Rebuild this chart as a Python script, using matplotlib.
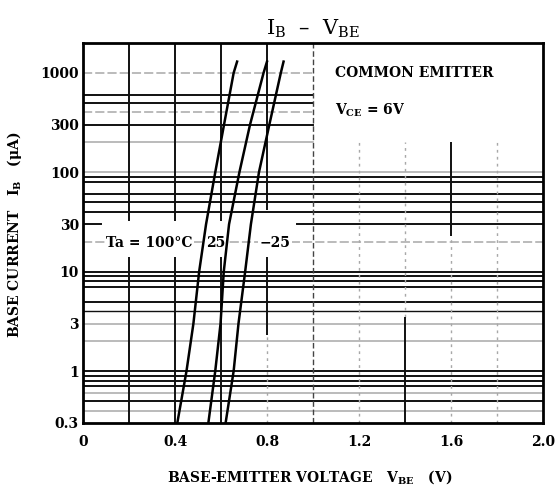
import matplotlib
matplotlib.use("Agg")
import matplotlib.pyplot as plt

# ---------------- data ----------------
ib_levels = [0.3, 1, 3, 10, 30, 100, 300, 1000, 1300]          # uA
vbe_100 = [0.41, 0.45, 0.48, 0.505, 0.535, 0.575, 0.613, 0.655, 0.67]
vbe_25 = [0.545, 0.575, 0.598, 0.612, 0.635, 0.68, 0.726, 0.785, 0.80]
vbe_m25 = [0.62, 0.655, 0.676, 0.705, 0.73, 0.765, 0.81, 0.86, 0.872]
curve_labels = ["Ta = 100°C", "25", "−25"]

x_ticks = [0, 0.4, 0.8, 1.2, 1.6, 2.0]
x_tick_labels = ["0", "0.4", "0.8", "1.2", "1.6", "2.0"]
y_ticks = [0.3, 1, 3, 10, 30, 100, 300, 1000]
y_tick_labels = ["0.3", "1", "3", "10", "30", "100", "300", "1000"]

plt.rcParams['font.family'] = ['DejaVu Serif']
plt.rcParams['mathtext.fontset'] = 'dejavuserif'

fig = plt.figure(figsize=(5.55, 4.91), dpi=100)
ax = fig.add_axes([83/555, 1-423/491, 460/555, 380/491])
ax.set_xscale('linear')
ax.set_yscale('log')
ax.set_xlim(0, 2.0)
ax.set_ylim(0.3, 2000)

BLK = '#111111'
GRY = '#a8a8a8'

# ---- horizontal grid (log minor lines, scanned-style) ----
def hline(v, style, x0=0.0, x1=1.0):
    if style == 'k':
        ax.axhline(v, x0, x1, color=BLK, lw=1.4, zorder=1)
    elif style == 'kt':
        ax.axhline(v, x0, x1, color=BLK, lw=1.0, zorder=1)
    elif style == 'g':
        ax.axhline(v, x0, x1, color=GRY, lw=1.1, zorder=1)
    elif style == 'gd':
        ax.axhline(v, x0, x1, color=GRY, lw=1.1, ls=(0, (6, 2)), zorder=1)

# decade 0.3 - 1
for v, s in [(0.4, 'g'), (0.5, 'k'), (0.6, 'g'), (0.7, 'k'), (0.8, 'k'), (0.9, 'k'), (1, 'k')]:
    hline(v, s)
# decade 1 - 10
for v, s in [(2, 'g'), (3, 'g'), (4, 'kt'), (5, 'k'), (7, 'k'), (8, 'k'), (9, 'k'), (10, 'k')]:
    hline(v, s)
# decade 10 - 100
for v, s in [(20, 'gd'), (40, 'k'), (50, 'k'), (60, 'k'), (80, 'k'), (90, 'k'), (100, 'g')]:
    hline(v, s)
hline(30, 'k', 0.0, 0.04)
hline(30, 'k', 0.465, 1.0)
# decade 100 - 1000 (only left half)
for v, s in [(200, 'g'), (300, 'k'), (400, 'gd'), (500, 'k'), (600, 'k'), (1000, 'gd')]:
    hline(v, s, 0.0, 0.5)

# ---- vertical grid ----
def vseg(x, y0, y1, style):
    kw = dict(color=BLK, lw=1.4)
    if style == 'g':
        kw = dict(color=GRY, lw=1.0, ls=(0, (2, 3)))
    elif style == 'd':
        kw = dict(color='#444444', lw=1.0, ls=(0, (4, 2)))
    ax.plot([x, x], [y0, y1], zorder=1, solid_capstyle='butt', **kw)

for x in (0.2, 0.4, 0.6):
    vseg(x, 0.3, 14, 'k')
    vseg(x, 32, 2000, 'k')
vseg(0.8, 42, 2000, 'k')
vseg(0.8, 2.3, 14, 'k')
vseg(0.8, 0.3, 2.3, 'g')
vseg(1.0, 0.3, 2000, 'd')
vseg(1.2, 0.3, 200, 'g')
vseg(1.4, 3.5, 200, 'g')
vseg(1.4, 0.3, 3.5, 'k')
vseg(1.6, 23, 200, 'k')
vseg(1.6, 0.3, 23, 'g')
vseg(1.8, 0.3, 200, 'g')

# ---- curves ----
for v in (vbe_100, vbe_25, vbe_m25):
    ax.plot(v, ib_levels, color='black', lw=1.8, zorder=6)

# curve labels
bbox = dict(facecolor='white', edgecolor='none', pad=1.0)
tkw = dict(fontsize=10, fontweight='bold', va='center', zorder=4, bbox=bbox)
ax.text(0.10, 19.4, curve_labels[0], ha='left', **tkw)
ax.text(0.578, 19.4, curve_labels[1], ha='center', **tkw)
ax.text(0.835, 19.4, curve_labels[2], ha='center', **tkw)

# condition text
ax.text(1.096, 1000, "COMMON EMITTER", fontsize=10, fontweight='bold', ha='left', va='center', zorder=4)
ax.text(1.096, 420, r"$\mathbf{V_{CE}}$ = 6V", fontsize=10, fontweight='bold', ha='left', va='center', zorder=4)

# ---- axes styling ----
for sp in ax.spines.values():
    sp.set_linewidth(2.0)
    sp.set_color('black')
    sp.set_zorder(7)

ax.set_xticks(x_ticks)
ax.set_xticklabels(x_tick_labels, fontsize=10, fontweight='bold')
ax.set_yticks(y_ticks)
ax.set_yticklabels(y_tick_labels, fontsize=10, fontweight='bold')
ax.minorticks_off()
ax.tick_params(axis='both', length=0)
ax.tick_params(axis='x', pad=9)
ax.tick_params(axis='y', pad=3)

ax.set_title(r"$\mathrm{I_B}$  –  $\mathrm{V_{BE}}$", fontsize=15, pad=6)
ax.set_xlabel(r"BASE-EMITTER VOLTAGE   $\mathbf{V_{BE}}$   (V)", fontsize=10, fontweight='bold')
ax.xaxis.set_label_coords(0.493, -54/380)
ax.xaxis.label.set_va('center')
ax.set_ylabel(r"BASE CURRENT   $\mathbf{I_B}$   (μA)", fontsize=10, fontweight='bold')
ax.yaxis.set_label_coords(-68/460, 0.495)
ax.yaxis.label.set_va('center')

fig.savefig("out.png", dpi=100)
